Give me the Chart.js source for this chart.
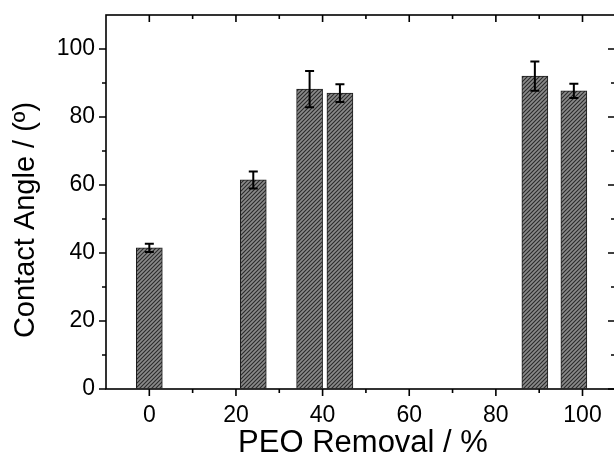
<!DOCTYPE html>
<html>
<head>
<meta charset="utf-8">
<script src="https://cdn.jsdelivr.net/npm/chart.js@4/dist/chart.umd.min.js"></script>
<style>
  html, body { margin: 0; padding: 0; background: #fff; overflow: hidden; }
  #wrap { width: 620px; height: 456px; }
</style>
</head>
<body>
<div id="wrap"><canvas id="angleChart" width="620" height="456"></canvas></div>
<script>
// PEO removal (%) of each sample and its contact angle (deg) with std. dev.
const removal = [0, 24, 37, 44, 89, 98];
const angle = [41.5, 61.5, 88.2, 87.0, 92.0, 87.7];
const angleErr = [1.2, 2.5, 5.3, 2.6, 4.3, 2.1];

// axis ticks
const xMajor = [0, 20, 40, 60, 80, 100];
const xMinor = [10, 30, 50, 70, 90];
const yMajor = [0, 20, 40, 60, 80, 100];
const yMinor = [10, 30, 50, 70, 90];

const FONT = "'Liberation Sans', Arial, sans-serif";

// diagonal hatch like the original figure
function makeHatch() {
  const c = document.createElement("canvas");
  c.width = 4;
  c.height = 4;
  const g = c.getContext("2d");
  g.fillStyle = "#8a8a8a";
  g.fillRect(0, 0, 4, 4);
  g.strokeStyle = "#2a2a2a";
  g.lineWidth = 1.1;
  g.beginPath();
  g.moveTo(0, 4); g.lineTo(4, 0);
  g.moveTo(-1, 1); g.lineTo(1, -1);
  g.moveTo(3, 5); g.lineTo(5, 3);
  g.stroke();
  return g.createPattern(c, "repeat");
}

// error bars, frame, tick marks and axis titles
const decorations = {
  id: "decorations",
  afterDatasetsDraw(chart) {
    const ctx = chart.ctx;
    const ys = chart.scales.y;
    const meta = chart.getDatasetMeta(0);
    ctx.save();
    ctx.strokeStyle = "#000";
    ctx.lineWidth = 2;
    meta.data.forEach((bar, i) => {
      const top = ys.getPixelForValue(angle[i] + angleErr[i]);
      const bot = ys.getPixelForValue(angle[i] - angleErr[i]);
      ctx.beginPath();
      ctx.moveTo(bar.x, top); ctx.lineTo(bar.x, bot);
      ctx.moveTo(bar.x - 4.5, top); ctx.lineTo(bar.x + 4.5, top);
      ctx.moveTo(bar.x - 4.5, bot); ctx.lineTo(bar.x + 4.5, bot);
      ctx.stroke();
    });
    ctx.restore();
  },
  afterDraw(chart) {
    const ctx = chart.ctx;
    const { left, right, top, bottom } = chart.chartArea;
    const xs = chart.scales.x;
    const ys = chart.scales.y;
    ctx.save();
    ctx.strokeStyle = "#000";
    ctx.lineWidth = 1.6;
    ctx.strokeRect(left, top, right - left, bottom - top);

    ctx.beginPath();
    const xTick = (v, len) => {
      const p = xs.getPixelForValue(v);
      ctx.moveTo(p, bottom); ctx.lineTo(p, bottom + len);
      ctx.moveTo(p, top); ctx.lineTo(p, top + len);
    };
    const yTick = (v, len) => {
      const p = ys.getPixelForValue(v);
      ctx.moveTo(left, p); ctx.lineTo(left - len, p);
      ctx.moveTo(right, p); ctx.lineTo(right - len, p);
    };
    xMajor.forEach((v) => xTick(v, 7));
    xMinor.forEach((v) => xTick(v, 4));
    yMajor.forEach((v) => yTick(v, 7));
    yMinor.forEach((v) => yTick(v, 4));
    ctx.stroke();

    ctx.fillStyle = "#000";
    ctx.font = "31px " + FONT;
    ctx.textAlign = "center";
    ctx.textBaseline = "alphabetic";
    ctx.fillText("PEO Removal / %", 363, 452);

    ctx.translate(34, 220);
    ctx.rotate(-Math.PI / 2);
    ctx.font = "29px " + FONT;
    ctx.fillText("Contact Angle / (\u00ba)", 0, 0);
    ctx.restore();
  },
};

new Chart(document.getElementById("angleChart"), {
  type: "bar",
  data: {
    datasets: [
      {
        data: removal.map((x, i) => ({ x: x, y: angle[i] })),
        backgroundColor: makeHatch(),
        borderColor: "#1c1c1c",
        borderWidth: 1,
        barThickness: 26,
      },
    ],
  },
  options: {
    responsive: false,
    animation: false,
    layout: { padding: { top: 15, right: 5, left: 0, bottom: 0 } },
    plugins: { legend: { display: false }, tooltip: { enabled: false } },
    scales: {
      x: {
        type: "linear",
        offset: false,
        min: -10,
        max: 107.5,
        afterBuildTicks: (s) => { s.ticks = xMajor.map((v) => ({ value: v })); },
        afterFit: (s) => { s.height = 67; s.paddingLeft = 0; s.paddingRight = 0; },
        grid: { offset: false, drawOnChartArea: false, tickLength: 7, color: "transparent" },
        border: { display: false },
        ticks: { padding: 6, color: "#000", font: { family: FONT, size: 23 } },
      },
      y: {
        min: 0,
        max: 110,
        afterBuildTicks: (s) => { s.ticks = yMajor.map((v) => ({ value: v })); },
        afterFit: (s) => { s.width = 106; s.paddingTop = 0; s.paddingBottom = 0; },
        grid: { drawOnChartArea: false, tickLength: 7, color: "transparent" },
        border: { display: false },
        ticks: { padding: 4, color: "#000", font: { family: FONT, size: 23 } },
      },
    },
  },
  plugins: [decorations],
});
</script>
</body>
</html>
